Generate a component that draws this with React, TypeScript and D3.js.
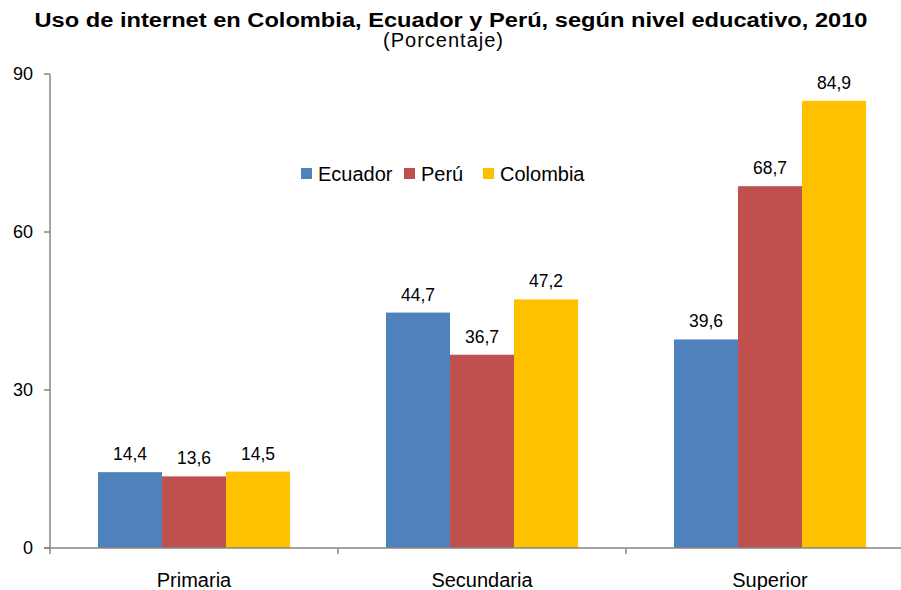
import React from "react";
import * as d3 from "d3";

const categories = ["Primaria", "Secundaria", "Superior"];
const seriesNames = ["Ecuador", "Perú", "Colombia"];
const ecuador = [14.4, 44.7, 39.6];
const peru = [13.6, 36.7, 68.7];
const colombia = [14.5, 47.2, 84.9];
const yTicks = [0, 30, 60, 90];
const colors = ["#4F81BD", "#C0504D", "#FFC000"];

const W = 901;
const H = 590;
const left = 50;
const right = 914;
const top = 74;
const bottom = 548;

export default function App() {
  const series = [ecuador, peru, colombia];
  const x0 = d3.scaleBand<string>().domain(categories).range([left, right]).paddingInner(0.333).paddingOuter(0.1665);
  const x1 = d3.scaleBand<string>().domain(seriesNames).range([0, x0.bandwidth()]);
  const y = d3.scaleLinear().domain([0, 90]).range([bottom, top]);
  const font = "'Liberation Sans', Arial, sans-serif";
  const step = (right - left) / categories.length;
  const catTicks = d3.range(categories.length + 1).map((i) => left + i * step);
  const fmt = (v: number) => v.toFixed(1).replace(".", ",");

  const legendItems = [
    { name: "Ecuador", x: 301 },
    { name: "Perú", x: 404 },
    { name: "Colombia", x: 483 },
  ];

  return (
    <svg width={W} height={H} style={{ position: "absolute", left: 0, top: 0, background: "#fff" }} fontFamily={font}>
      <rect width={W} height={H} fill="#fff" />
      <text x={451} y={27} textAnchor="middle" fontSize={20} fontWeight="bold" fill="#000" textLength={833} lengthAdjust="spacingAndGlyphs">
        Uso de internet en Colombia, Ecuador y Perú, según nivel educativo, 2010
      </text>
      <text x={443} y={47} textAnchor="middle" fontSize={20} fontWeight="normal" fill="#000" textLength={120} lengthAdjust="spacing">
        (Porcentaje)
      </text>

      {categories.map((c, ci) =>
        series.map((s, si) => {
          const v = s[ci];
          const bx = (x0(c) as number) + (x1(seriesNames[si]) as number);
          const bw = x1.bandwidth();
          return (
            <g key={c + si}>
              <rect x={bx} y={y(v)} width={bw} height={bottom - y(v)} fill={colors[si]} />
              <text x={bx + bw / 2} y={y(v) - 12} textAnchor="middle" fontSize={17.5} fill="#000">
                {fmt(v)}
              </text>
            </g>
          );
        })
      )}

      <line x1={left} x2={left} y1={top} y2={bottom} stroke="#868686" strokeWidth={1.5} />
      {yTicks.map((t) => (
        <g key={t}>
          <line x1={left - 6} x2={left} y1={y(t)} y2={y(t)} stroke="#868686" strokeWidth={1.5} />
          <text x={33} y={y(t)} dy="0.35em" textAnchor="end" fontSize={18} fill="#000">
            {t}
          </text>
        </g>
      ))}
      <line x1={left - 6} x2={W} y1={bottom} y2={bottom} stroke="#868686" strokeWidth={1.5} />
      {catTicks.map((t, i) => (
        <line key={i} x1={t} x2={t} y1={bottom} y2={bottom + 6} stroke="#868686" strokeWidth={1.5} />
      ))}
      {categories.map((c) => (
        <text key={c} x={(x0(c) as number) + x0.bandwidth() / 2} y={587} textAnchor="middle" fontSize={20} fill="#000">
          {c}
        </text>
      ))}

      {legendItems.map((it, i) => (
        <g key={it.name}>
          <rect x={it.x} y={168} width={11} height={11} fill={colors[i]} />
          <text x={it.x + 17} y={181} fontSize={20} fill="#000">
            {it.name}
          </text>
        </g>
      ))}
    </svg>
  );
}
